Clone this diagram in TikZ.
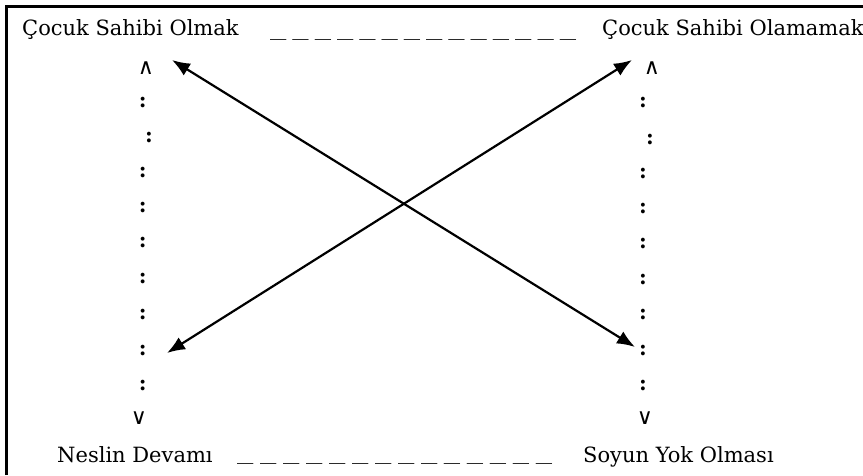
\documentclass[tikz,border=0pt]{standalone}
\usepackage{fontspec}
\setmainfont{DejaVu Serif}
\newfontfamily\wedgefont{DejaVu Sans}
\usepackage{graphicx}
\usetikzlibrary{arrows.meta}
\newcommand\undsh{\scalebox{1.55}[1]{\_}}
\newcommand\dashrow[1]{\undsh\foreach \k in {1,...,13}{\hspace{#1}\undsh}}
\begin{document}
\begin{tikzpicture}[x=1pt,y=1pt,
  lbl/.style={inner sep=0pt, anchor=base west, font=\fontsize{21}{25}\selectfont},
  colonmark/.style={inner sep=0pt, font=\fontsize{21}{25}\selectfont\bfseries},
  wedgemark/.style={inner sep=0pt, font=\wedgefont\fontsize{22}{26}\selectfont},
  link/.style={line width=2.2pt, {Latex[length=18pt,width=14pt]}-{Latex[length=18pt,width=14pt]}}]
\useasboundingbox (0,0) rectangle (863,475);
\draw[line width=2.6pt] (6.5,0) -- (6.5,468.5) -- (863,468.5);
% labels
\node[lbl] (cso) at (22,439) {Çocuk Sahibi Olmak};
\node[lbl] (csol) at (602,439) {Çocuk Sahibi Olamamak};
\node[lbl] (nd) at (57,13) {Neslin Devamı};
\node[lbl] (syo) at (583,13) {Soyun Yok Olması};
\node[lbl] (dtop) at (270,439) {\dashrow{6pt}};
\node[lbl] (dbot) at (237,16) {\dashrow{6.7pt}};
% left column
\node[wedgemark] (lup) at (146,407) {∧};
\node[colonmark] (lc1) at (142.7,372) {:};
\node[colonmark] (lc2) at (149,337) {:};
\node[colonmark] (lc3) at (142.7,302) {:};
\node[colonmark] (lc4) at (142.7,267) {:};
\node[colonmark] (lc5) at (142.7,232) {:};
\node[colonmark] (lc6) at (142.7,196) {:};
\node[colonmark] (lc7) at (142.7,161) {:};
\node[colonmark] (lc8) at (142.7,125) {:};
\node[colonmark] (lc9) at (142.7,90) {:};
\node[wedgemark] (ldown) at (139,57) {∨};
% right column
\node[wedgemark] (rup) at (652,407) {∧};
\node[colonmark] (rc1) at (643,372) {:};
\node[colonmark] (rc2) at (650,335) {:};
\node[colonmark] (rc3) at (643,301) {:};
\node[colonmark] (rc4) at (643,266) {:};
\node[colonmark] (rc5) at (643,231) {:};
\node[colonmark] (rc6) at (643,195) {:};
\node[colonmark] (rc7) at (643,160) {:};
\node[colonmark] (rc8) at (643,125) {:};
\node[colonmark] (rc9) at (643,90) {:};
\node[wedgemark] (rdown) at (645,57) {∨};
% arrows
\coordinate (a1) at (172,415);
\coordinate (b1) at (635,128);
\coordinate (a2) at (632,415);
\coordinate (b2) at (167,122);
\draw[link] (a1) -- (b1);
\draw[link] (a2) -- (b2);
\end{tikzpicture}
\end{document}
